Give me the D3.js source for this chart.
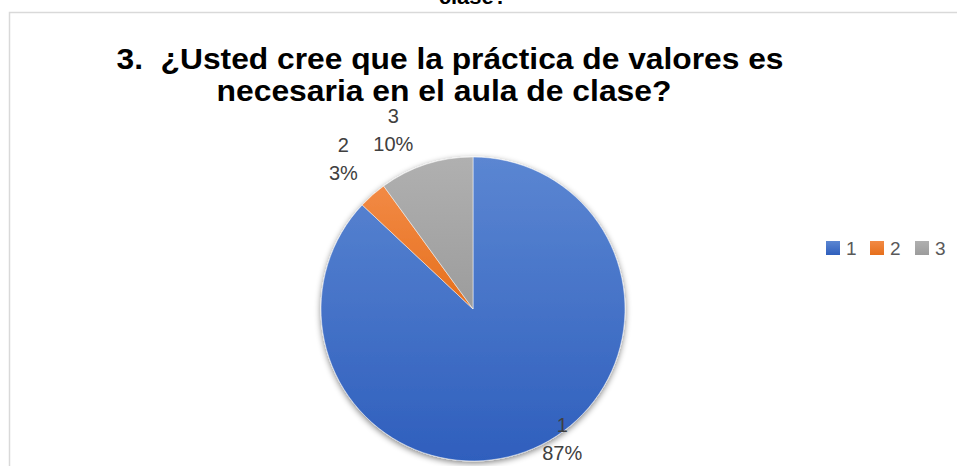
<!DOCTYPE html>
<html>
<head>
<meta charset="utf-8">
<script src="https://cdn.jsdelivr.net/npm/d3@7"></script>
<style>
  body { margin: 0; background: #ffffff; }
  svg { display: block; }
</style>
</head>
<body>
<div id="chart"></div>
<script>
  var categories = ["1", "2", "3"];
  var values = [87, 3, 10];
  var percentLabels = ["87%", "3%", "10%"];
  var titleLines = ["3.  ¿Usted cree que la práctica de valores es", "necesaria en el aula de clase?"];

  var width = 957,
    height = 466;

  var svg = d3.select("#chart")
    .append("svg")
    .attr("width", width)
    .attr("height", height);

  var defs = svg.append("defs");

  // slice colours: light top, dark bottom
  var colors = [
    ["#5b86d2", "#2f5fbd"],
    ["#f28a45", "#e66f1c"],
    ["#b0b0b0", "#9c9c9c"]
  ];
  colors.forEach(function(c, i) {
    var g = defs.append("linearGradient")
      .attr("id", "grad" + i)
      .attr("x1", 0).attr("y1", 0).attr("x2", 0).attr("y2", 1);
    g.append("stop").attr("offset", "0%").attr("stop-color", c[0]);
    g.append("stop").attr("offset", "100%").attr("stop-color", c[1]);
  });

  var shadow = defs.append("filter").attr("id", "shadow")
    .attr("x", "-20%").attr("y", "-20%").attr("width", "140%").attr("height", "140%");
  shadow.append("feGaussianBlur").attr("in", "SourceAlpha").attr("stdDeviation", 3);
  shadow.append("feOffset").attr("dx", 0).attr("dy", 2).attr("result", "b");
  shadow.append("feComponentTransfer").append("feFuncA").attr("type", "linear").attr("slope", 0.5);
  var merge = shadow.append("feMerge");
  merge.append("feMergeNode");
  merge.append("feMergeNode").attr("in", "SourceGraphic");

  // leftover text of the previous title, cut at the top
  svg.append("text")
    .attr("x", 473)
    .attr("y", 4)
    .attr("text-anchor", "middle")
    .style("font-family", '"Liberation Sans", Arial, sans-serif')
    .style("font-weight", "bold")
    .style("font-size", "22px")
    .attr("fill", "#000")
    .text("clase?");

  // chart area border
  svg.append("rect")
    .attr("x", 9.5)
    .attr("y", 12.5)
    .attr("width", 960)
    .attr("height", 470)
    .attr("fill", "#ffffff")
    .attr("stroke", "#d9d9d9")
    .attr("stroke-width", 1.5);

  var titleWidths = [667, 455];
  var titleCenters = [450, 444];
  svg.selectAll(".title")
    .data(titleLines)
    .enter().append("text")
    .attr("class", "title")
    .attr("x", function(d, i) { return titleCenters[i]; })
    .attr("y", function(d, i) { return 69 + i * 32; })
    .attr("text-anchor", "middle")
    .attr("textLength", function(d, i) { return titleWidths[i]; })
    .attr("lengthAdjust", "spacingAndGlyphs")
    .style("white-space", "pre")
    .style("font-family", '"Liberation Sans", Arial, sans-serif')
    .style("font-weight", "bold")
    .style("font-size", "29px")
    .attr("fill", "#000")
    .text(function(d) { return d; });

  var cx = 473, cy = 309, radius = 152;

  var pie = d3.pie().sort(null).value(function(d) { return d; });
  var arcs = pie(values);
  var arc = d3.arc().innerRadius(0).outerRadius(radius);

  var g = svg.append("g").attr("transform", "translate(" + cx + "," + cy + ")");

  g.append("g")
    .attr("filter", "url(#shadow)")
    .selectAll("path")
    .data(arcs)
    .enter().append("path")
    .attr("d", arc)
    .attr("fill", function(d, i) { return "url(#grad" + i + ")"; })
    .attr("stroke", "#ffffff")
    .attr("stroke-width", 0.5);

  // label placement (angle shift in degrees, radius)
  var labelLayout = [[-11, 158], [0.5, 198], [-6, 196]];

  var labels = g.selectAll(".label")
    .data(arcs)
    .enter().append("text")
    .attr("class", "label")
    .attr("text-anchor", "middle")
    .style("font-family", '"Liberation Sans", Arial, sans-serif')
    .style("font-size", "20px")
    .attr("fill", "#404040")
    .attr("transform", function(d, i) {
      var a = (d.startAngle + d.endAngle) / 2 + labelLayout[i][0] * Math.PI / 180;
      var r = labelLayout[i][1];
      return "translate(" + (Math.sin(a) * r) + "," + (-Math.cos(a) * r) + ")";
    });

  labels.append("tspan")
    .attr("x", 0)
    .attr("y", -7)
    .text(function(d, i) { return categories[i]; });
  labels.append("tspan")
    .attr("x", 0)
    .attr("y", 21)
    .text(function(d, i) { return percentLabels[i]; });

  // legend
  var legendX = [826, 870, 915];
  var legend = svg.selectAll(".legend")
    .data(categories)
    .enter().append("g")
    .attr("class", "legend")
    .attr("transform", function(d, i) { return "translate(" + legendX[i] + ",241)"; });
  legend.append("rect")
    .attr("width", 14)
    .attr("height", 14)
    .attr("fill", function(d, i) { return "url(#grad" + i + ")"; });
  legend.append("text")
    .attr("x", 20)
    .attr("y", 13.5)
    .style("font-family", '"Liberation Sans", Arial, sans-serif')
    .style("font-size", "19px")
    .attr("fill", "#595959")
    .text(function(d) { return d; });
</script>
</body>
</html>
